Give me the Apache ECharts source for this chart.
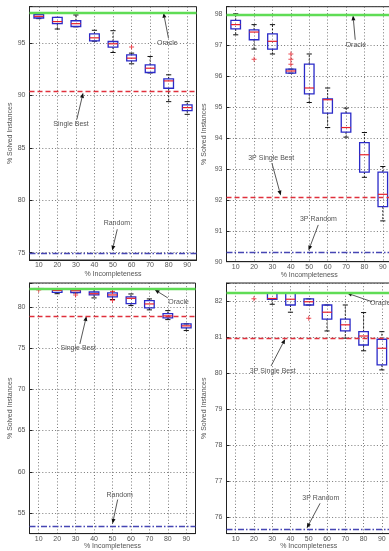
<!DOCTYPE html>
<html>
<head>
<meta charset="utf-8">
<script src="https://cdn.jsdelivr.net/npm/echarts@6/dist/echarts.min.js"></script>
<style>
  html, body { margin: 0; padding: 0; background: #fff; overflow: hidden; }
  #chart { width: 400px; height: 551px; }
</style>
</head>
<body>
<div id="chart"></div>
<script>
// Percentage of incompleteness (x categories, shared by all four panels)
const categories = ['10', '20', '30', '40', '50', '60', '70', '80', '90'];

// Box statistics per category: [lower whisker, Q1, median, Q3, upper whisker]
const boxesA = [
  [97.33, 97.39, 97.55, 97.71, 97.87],
  [96.34, 96.85, 97.05, 97.45, 97.45],
  [96.55, 96.58, 96.85, 97.13, 97.68],
  [95.18, 95.20, 95.50, 95.88, 96.22],
  [94.10, 94.62, 94.93, 95.15, 96.18],
  [93.02, 93.31, 93.56, 93.88, 94.04],
  [92.15, 92.19, 92.60, 92.92, 93.72],
  [89.41, 90.69, 91.39, 91.58, 91.97],
  [88.20, 88.55, 88.84, 89.10, 89.41]
];
const outliersA = [[5, 94.62]];
const oracleA = 97.93, singleBestA = 90.37, randomA = 74.93;

const boxesB = [
  [97.34, 97.53, 97.67, 97.81, 98.02],
  [96.88, 97.18, 97.43, 97.50, 97.67],
  [96.72, 96.88, 97.13, 97.37, 97.67],
  [96.10, 96.10, 96.17, 96.23, 96.23],
  [95.15, 95.43, 95.62, 96.39, 96.72],
  [94.34, 94.81, 95.24, 95.27, 95.62],
  [94.03, 94.19, 94.34, 94.81, 94.97],
  [92.73, 92.90, 93.46, 93.85, 94.18],
  [91.32, 91.78, 92.18, 92.90, 93.08]
];
const outliersB = [[1, 96.55], [3, 96.39], [3, 96.55], [3, 96.72]];
const oracleB = 98.0, singleBestB = 92.1, randomB = 90.31;

const boxesC = [
  [82.15, 82.18, 82.20, 82.22, 82.22],
  [81.60, 81.77, 82.00, 82.18, 82.20],
  [81.70, 81.75, 81.97, 82.18, 82.20],
  [81.09, 81.45, 81.60, 81.81, 82.15],
  [80.90, 81.21, 81.45, 81.69, 82.10],
  [80.16, 80.40, 81.04, 81.21, 81.57],
  [79.64, 79.88, 80.36, 80.76, 80.97],
  [78.46, 78.67, 78.91, 79.19, 79.55],
  [77.13, 77.46, 77.70, 77.94, 77.94]
];
const outliersC = [[0, 82.05], [2, 81.45], [4, 81.88], [4, 80.80]];
const oracleC = 82.18, singleBestC = 78.83, randomC = 53.4;

const boxesD = [
  [82.23, 82.23, 82.23, 82.23, 82.23],
  [82.23, 82.23, 82.23, 82.23, 82.23],
  [81.91, 82.05, 82.07, 82.23, 82.23],
  [81.69, 81.89, 82.05, 82.23, 82.23],
  [81.89, 81.89, 81.98, 82.06, 82.06],
  [81.17, 81.50, 81.69, 81.89, 81.89],
  [80.97, 81.17, 81.34, 81.50, 81.89],
  [80.62, 80.78, 81.03, 81.15, 81.68],
  [80.09, 80.23, 80.69, 80.94, 81.15]
];
const outliersD = [[1, 82.06], [4, 81.52]];
const oracleD = 82.23, singleBestD = 80.97, randomD = 75.67;

// Y-axis ranges and tick steps per panel
const yRangeA = [74.3, 98.47], yStepA = 5;
const yRangeB = [90, 98.25], yStepB = 1;
const yRangeC = [52.5, 82.9], yStepC = 5;
const yRangeD = [75.55, 82.5], yStepD = 1;

// Annotation labels: text anchor and arrow [tail, tip] in (category index, value)
const notesA = [
  { text: 'Oracle', at: [6.93, 95.0], tail: [6.99, 95.46], tip: [6.72, 97.9] },
  { text: 'Single Best', at: [1.74, 87.25], tail: [2.05, 87.71], tip: [2.39, 90.25] },
  { text: 'Random', at: [4.21, 77.78], tail: [4.23, 77.23], tip: [3.96, 75.2] }
];
const notesB = [
  { text: 'Oracle', at: [6.54, 97.0], tail: [6.5, 97.18], tip: [6.38, 97.97] },
  { text: '3P Single Best', at: [1.93, 93.35], tail: [1.97, 93.19], tip: [2.45, 92.14] },
  { text: '3P Random', at: [4.5, 91.37], tail: [4.49, 91.19], tip: [3.96, 90.36] }
];
const notesC = [
  { text: 'Oracle', at: [7.58, 80.6], tail: [7.0, 81.09], tip: [6.28, 82.1] },
  { text: 'Single Best', at: [2.14, 74.96], tail: [2.23, 75.5], tip: [2.59, 78.9] },
  { text: 'Random', at: [4.39, 57.21], tail: [4.28, 56.63], tip: [4.0, 53.7] }
];
const notesD = [
  { text: 'Oracle', at: [7.91, 81.95], tail: [7.46, 81.98], tip: [6.09, 82.22] },
  { text: '3P Single Best', at: [2.03, 80.06], tail: [1.94, 80.2], tip: [2.71, 80.95] },
  { text: '3P Random', at: [4.66, 76.54], tail: [4.62, 76.39], tip: [3.89, 75.7] }
];

const FONT = 'Liberation Sans';
const TEXT = '#555';
const AXIS = '#222';
const GRIDLINE = { color: '#555', width: 0.8, type: [1, 2.2] };

const panels = [
  { boxes: boxesA, outliers: outliersA, refs: [oracleA, singleBestA, randomA], yRange: yRangeA, yStep: yStepA, notes: notesA,
    grid: { left: 29.5, top: 6.7, width: 167, height: 253.3 }, yNameGap: 16, xNameGap: 10.5 },
  { boxes: boxesB, outliers: outliersB, refs: [oracleB, singleBestB, randomB], yRange: yRangeB, yStep: yStepB, notes: notesB,
    grid: { left: 226.5, top: 6.7, width: 165.5, height: 255 }, yNameGap: 18.5, xNameGap: 10 },
  { boxes: boxesC, outliers: outliersC, refs: [oracleC, singleBestC, randomC], yRange: yRangeC, yStep: yStepC, notes: notesC,
    grid: { left: 29.5, top: 283, width: 166, height: 252 }, yNameGap: 16, xNameGap: 8.5 },
  { boxes: boxesD, outliers: outliersD, refs: [oracleD, singleBestD, randomD], yRange: yRangeD, yStep: yStepD, notes: notesD,
    grid: { left: 226.5, top: 283, width: 164.5, height: 251.5 }, yNameGap: 18.5, xNameGap: 8.5 }
];

const plusSymbol = 'path://M0,1.6H4V2.4H0Z M1.6,0H2.4V4H1.6Z';

function renderBox(params, api) {
  const i = api.value(0);
  const low = api.coord([i, api.value(1)]);
  const q1 = api.coord([i, api.value(2)]);
  const med = api.coord([i, api.value(3)]);
  const q3 = api.coord([i, api.value(4)]);
  const high = api.coord([i, api.value(5)]);
  const w = api.size([1, 0])[0] * 0.52;
  const cx = med[0];
  const cap = w * 0.27;
  const whisker = { stroke: '#111', lineWidth: 0.9, lineDash: [2, 1.5] };
  const capStyle = { stroke: '#111', lineWidth: 1 };
  return {
    type: 'group',
    children: [
      { type: 'line', shape: { x1: cx, y1: q3[1], x2: cx, y2: high[1] }, style: whisker },
      { type: 'line', shape: { x1: cx, y1: q1[1], x2: cx, y2: low[1] }, style: whisker },
      { type: 'line', shape: { x1: cx - cap, y1: high[1], x2: cx + cap, y2: high[1] }, style: capStyle },
      { type: 'line', shape: { x1: cx - cap, y1: low[1], x2: cx + cap, y2: low[1] }, style: capStyle },
      { type: 'rect', shape: { x: cx - w / 2, y: q3[1], width: w, height: q1[1] - q3[1] },
        style: { fill: 'none', stroke: '#2a2ac8', lineWidth: 1.3 } },
      { type: 'line', shape: { x1: cx - w / 2, y1: med[1], x2: cx + w / 2, y2: med[1] },
        style: { stroke: '#e8202a', lineWidth: 1.2 } }
    ]
  };
}

const grids = [], xAxes = [], yAxes = [], series = [];
panels.forEach((p, g) => {
  grids.push(Object.assign({ show: true, borderColor: AXIS, borderWidth: 1, containLabel: false }, p.grid));
  xAxes.push({
    type: 'category', gridIndex: g, data: categories, boundaryGap: true,
    name: '% Incompleteness', nameLocation: 'middle', nameGap: p.xNameGap,
    nameTextStyle: { fontFamily: FONT, fontSize: 7, color: TEXT },
    axisLine: { lineStyle: { color: AXIS, width: 1 } },
    axisTick: { inside: true, alignWithLabel: true, length: 3, lineStyle: { color: AXIS } },
    axisLabel: { fontFamily: FONT, fontSize: 7, color: TEXT, margin: 1.5 },
    splitLine: { show: true, alignWithLabel: true, lineStyle: GRIDLINE }
  });
  yAxes.push({
    type: 'value', gridIndex: g, min: p.yRange[0], max: p.yRange[1],
    minInterval: p.yStep, maxInterval: p.yStep,
    name: '% Solved Instances', nameLocation: 'middle', nameGap: p.yNameGap, nameRotate: 90,
    nameTextStyle: { fontFamily: FONT, fontSize: 7, color: TEXT },
    axisLine: { show: true, lineStyle: { color: AXIS, width: 1 } },
    axisTick: { show: true, inside: true, length: 3, lineStyle: { color: AXIS } },
    axisLabel: {
      fontFamily: FONT, fontSize: 7, color: TEXT, margin: 4,
      formatter: v => (Math.abs(v / p.yStep - Math.round(v / p.yStep)) < 1e-6 ? String(Math.round(v)) : '')
    },
    splitLine: { show: true, lineStyle: GRIDLINE }
  });
  // Reference levels: oracle, single best, random
  series.push({
    type: 'scatter', xAxisIndex: g, yAxisIndex: g, data: [], silent: true, z: 1,
    markLine: {
      silent: true, animation: false, symbol: ['none', 'none'], label: { show: false },
      data: [
        { yAxis: p.refs[0], lineStyle: { color: '#5fdc55', width: 2.4, type: 'solid' } },
        { yAxis: p.refs[1], lineStyle: { color: '#e0303c', width: 1.3, type: [5, 3] } },
        { yAxis: p.refs[2], lineStyle: { color: '#4646b4', width: 1.3, type: [6, 2, 1.5, 2] } }
      ]
    }
  });
  series.push({
    type: 'custom', xAxisIndex: g, yAxisIndex: g, z: 3, silent: true,
    renderItem: renderBox,
    encode: { x: 0, y: [1, 2, 3, 4, 5] },
    data: p.boxes.map((b, i) => [i].concat(b))
  });
  series.push({
    type: 'scatter', xAxisIndex: g, yAxisIndex: g, z: 4, silent: true,
    symbol: plusSymbol, symbolSize: 5,
    itemStyle: { color: '#e8202a' },
    data: p.outliers
  });
});

const chart = echarts.init(document.getElementById('chart'), null, { renderer: 'canvas' });
chart.setOption({
  animation: false,
  backgroundColor: '#fff',
  textStyle: { fontFamily: FONT },
  grid: grids, xAxis: xAxes, yAxis: yAxes, series: series
});

// Place annotation texts and arrows through the axes' own scales
function toPixel(g, pt) {
  const a = chart.convertToPixel({ gridIndex: g }, [categories[0], pt[1]]);
  const b = chart.convertToPixel({ gridIndex: g }, [categories[1], pt[1]]);
  return [a[0] + pt[0] * (b[0] - a[0]), a[1]];
}
const graphics = [];
panels.forEach((p, g) => {
  p.notes.forEach(n => {
    const at = toPixel(g, n.at), tail = toPixel(g, n.tail), tip = toPixel(g, n.tip);
    graphics.push({
      type: 'text', x: at[0], y: at[1], silent: true,
      style: { text: n.text, fontFamily: FONT, fontSize: 7, fill: TEXT, align: 'center', verticalAlign: 'middle' }
    });
    const dx = tip[0] - tail[0], dy = tip[1] - tail[1];
    const len = Math.sqrt(dx * dx + dy * dy);
    const ux = dx / len, uy = dy / len;
    const hl = 5, hw = 2;
    const bx = tip[0] - ux * hl, by = tip[1] - uy * hl;
    graphics.push({
      type: 'line', silent: true,
      shape: { x1: tail[0], y1: tail[1], x2: bx, y2: by },
      style: { stroke: '#444', lineWidth: 0.9 }
    });
    graphics.push({
      type: 'polygon', silent: true,
      shape: { points: [[tip[0], tip[1]], [bx - uy * hw, by + ux * hw], [bx + uy * hw, by - ux * hw]] },
      style: { fill: '#111' }
    });
  });
});
chart.setOption({ graphic: graphics });
</script>
</body>
</html>
